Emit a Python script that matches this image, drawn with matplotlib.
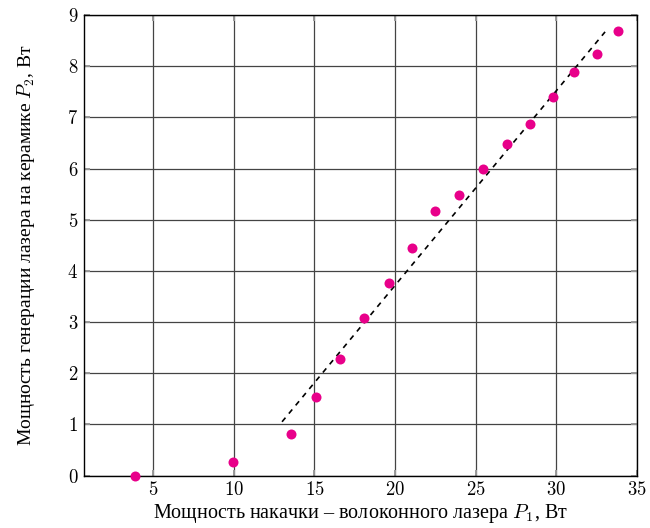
import matplotlib
matplotlib.use("Agg")
import matplotlib.pyplot as plt
from matplotlib.ticker import FuncFormatter

# measured points: pump power P1 (W) vs ceramic laser output P2 (W)
pump_power = [3.85, 9.97, 13.52, 15.08, 16.58, 18.1, 19.6, 21.03, 22.49, 23.97,
              25.44, 26.94, 28.34, 29.78, 31.09, 32.5, 33.81]
laser_power = [0.0, 0.26, 0.82, 1.53, 2.28, 3.07, 3.77, 4.45, 5.16, 5.48,
               6.0, 6.47, 6.87, 7.39, 7.89, 8.24, 8.69]

# linear fit endpoints (dashed line)
fit_x = [12.99, 33.02]
fit_y = [1.05, 8.67]

x_ticks = [5, 10, 15, 20, 25, 30, 35]
y_ticks = [0, 1, 2, 3, 4, 5, 6, 7, 8, 9]

xlabel = "Мощность накачки – волоконного лазера $P_1$, Вт"
ylabel = "Мощность генерации лазера на керамике $P_2$, Вт"

plt.rcParams["font.family"] = ["Liberation Serif", "DejaVu Serif"]
plt.rcParams["mathtext.fontset"] = "cm"

fig = plt.figure(figsize=(6.5, 5.28), dpi=100)
ax = fig.add_axes([0.129, 0.0994, 0.851, 0.8722])

ax.plot(fit_x, fit_y, color="black", linestyle=(0, (3.2, 3.2)), linewidth=1.2, zorder=3)
ax.plot(pump_power, laser_power, linestyle="none", marker="o", markersize=7.2,
        color="#E8008A", markeredgewidth=0, zorder=4, clip_on=False)

ax.set_xlim(0.7, 35)
ax.set_ylim(0, 9)
ax.set_xticks(x_ticks)
ax.set_yticks(y_ticks)
fmt = FuncFormatter(lambda v, pos: f"${v:g}$")
ax.xaxis.set_major_formatter(fmt)
ax.yaxis.set_major_formatter(fmt)

ax.grid(True, color="#444444", linewidth=0.9)
ax.tick_params(direction="in", length=4, width=1.4, color="#999999",
               top=True, right=True, labelsize=13.5, pad=4)

for s in ax.spines.values():
    s.set_linewidth(1.0)
    s.set_color("black")

ax.set_xlabel(xlabel, fontsize=14.5, labelpad=2)
ax.set_ylabel(ylabel, fontsize=14, labelpad=22)

fig.savefig("out.png", dpi=100)
